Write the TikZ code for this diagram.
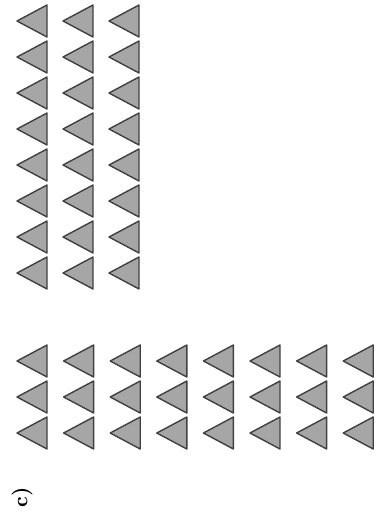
\documentclass[tikz,border=0pt]{standalone}
\usetikzlibrary{positioning}

\tikzset{
  tri/.style={draw=black!75,fill=black!35,line width=1.4pt,line join=round},
}

\begin{document}
\begin{tikzpicture}[x=1pt,y=-1pt]
  \useasboundingbox (0,0) rectangle (382,519);
  \foreach \c in {0,1,2}
    \foreach \r in {0,...,7}
      \draw[tri] ({47+46*\c},{21+36*\r-16}) -- ++(0,32) -- ++(-30,-16) -- cycle;
  \foreach \c in {0,...,7}
    \foreach \r in {0,1,2}
      \draw[tri] ({47+46.6*\c},{361+36*\r-16}) -- ++(0,32) -- ++(-30,-16) -- cycle;
  \node[rotate=90,scale=2.1,font=\bfseries] (lbl) at (22,497) {c)};
\end{tikzpicture}
\end{document}
